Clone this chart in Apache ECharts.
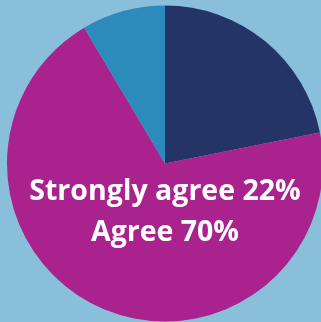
<!DOCTYPE html>
<html>
<head>
<meta charset="utf-8">
<script src="https://cdn.jsdelivr.net/npm/echarts@6/dist/echarts.min.js"></script>
<style>
  html, body { margin: 0; padding: 0; background: #89bfda; }
  #chart { width: 321px; height: 322px; }
</style>
</head>
<body>
<div id="chart"></div>
<script>
// Survey responses, in drawing order (clockwise from 12 o'clock)
const categories = ['Strongly agree', 'Agree', 'Other'];
const values = [22, 70, 8.6];
const colors = ['#243467', '#aa228e', '#2d8bbb'];
// Categories whose share is written in the centre caption
const captioned = [0, 1];

const chart = echarts.init(document.getElementById('chart'), null, { renderer: 'canvas' });

const caption = captioned.map(i => categories[i] + ' ' + values[i] + '%').join('\n');

chart.setOption({
  backgroundColor: '#89bfda',
  animation: false,
  title: {
    text: caption,
    left: 165,
    top: 171,
    padding: 0,
    textAlign: 'center',
    textStyle: {
      color: '#ffffff',
      fontFamily: 'Open Sans',
      fontWeight: 'bold',
      fontSize: 28.5,
      lineHeight: 41
    }
  },
  series: [{
    type: 'pie',
    center: [165, 163.5],
    radius: [0, 158],
    startAngle: 90,
    clockwise: true,
    label: { show: false },
    labelLine: { show: false },
    itemStyle: { borderWidth: 0 },
    emphasis: { disabled: true },
    z: 1,
    data: categories.map((c, i) => ({ name: c, value: values[i], itemStyle: { color: colors[i] } }))
  }]
});
</script>
</body>
</html>
